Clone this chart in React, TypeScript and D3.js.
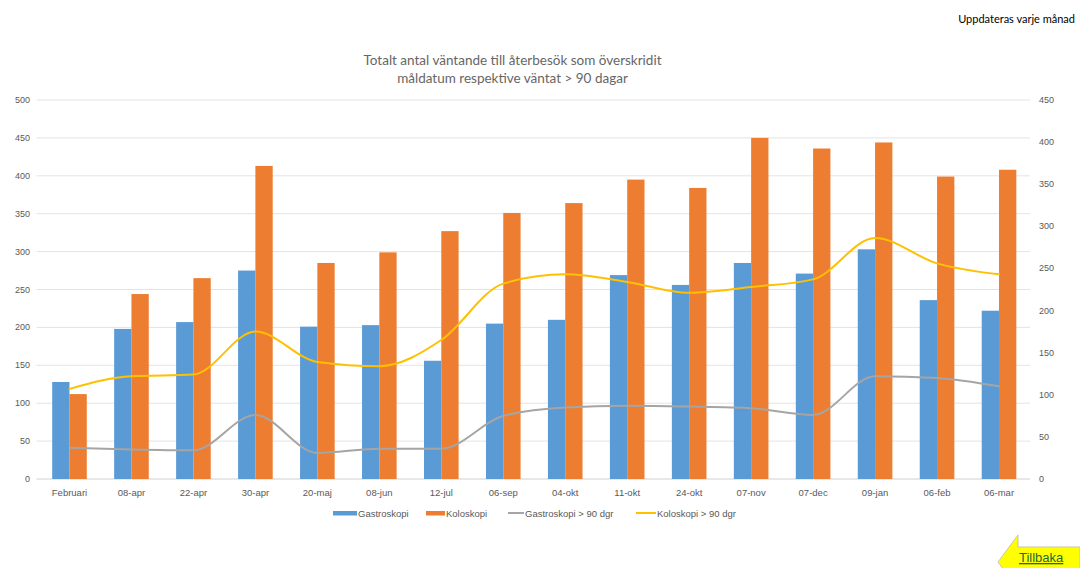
import React from "react";
import * as d3 from "d3";

const categories = ["Februari","08-apr","22-apr","30-apr","20-maj","08-jun","12-jul","06-sep","04-okt","11-okt","24-okt","07-nov","07-dec","09-jan","06-feb","06-mar"];
const gastroskopi = [128,198,207,275,201,203,156,205,210,269,256,285,271,303,236,222];
const koloskopi = [112,244,265,413,285,299,327,351,364,395,384,450,436,444,399,408];
const gastro90 = [37,35,34,76,31,36,36,75,85,87,86,84,76,122,120,110];
const kolo90 = [107,122,124,175,139,134,165,232,243,234,221,228,237,286,256,243];
const leftTicks = [0,50,100,150,200,250,300,350,400,450,500];
const rightTicks = [0,50,100,150,200,250,300,350,400,450];
const titleLines = ["Totalt antal väntande till återbesök som överskridit", "måldatum respektive väntat > 90 dagar"];

const W = 1080, H = 568;
const plot = { left: 38.5, right: 1030, top: 100, bottom: 479 };
const TXT = "#595959";
const C = { blue: "#5b9bd5", orange: "#ed7d31", gray: "#a5a5a5", yellow: "#ffc000" };
const FONT = "'Liberation Sans', Arial, sans-serif";

export default function App() {
  const x = d3.scaleBand<string>().domain(categories).range([plot.left, plot.right]).paddingInner(0).paddingOuter(0);
  const yL = d3.scaleLinear().domain([0, 500]).range([plot.bottom, plot.top]);
  const yR = d3.scaleLinear().domain([0, 450]).range([plot.bottom, plot.top]);
  const barW = 17.3;
  const cx = (c: string) => (x(c) as number) + x.bandwidth() / 2;
  const line = (vals: number[]) =>
    d3.line<number>().x((_, i) => cx(categories[i])).y((v) => yR(v)).curve(d3.curveMonotoneX)(vals) || "";

  const legend = [
    { label: "Gastroskopi", color: C.blue, kind: "bar", x: 333, w: 24 },
    { label: "Koloskopi", color: C.orange, kind: "bar", x: 426, w: 19 },
    { label: "Gastroskopi > 90 dgr", color: C.gray, kind: "line", x: 508, w: 16 },
    { label: "Koloskopi > 90 dgr", color: C.yellow, kind: "line", x: 636, w: 20 },
  ];

  return (
    <svg width={W} height={H} style={{ position: "absolute", left: 0, top: 0, background: "#fff" }} fontFamily={FONT}>
      <rect x={0} y={0} width={W} height={H} fill="#fff" />
      <text x={1075} y={23} textAnchor="end" fontSize={11} fill="#000" fontFamily="Lato, 'Open Sans', sans-serif">Uppdateras varje månad</text>
      {titleLines.map((t, i) => (
        <text key={i} x={512.5} y={65 + i * 18} textAnchor="middle" fontSize={13.5} fill="#666" fontFamily="Lato, 'Open Sans', sans-serif">{t}</text>
      ))}
      {leftTicks.map((t) => (
        <g key={"l" + t}>
          <line x1={36.5} x2={plot.right} y1={yL(t)} y2={yL(t)} stroke={t === 0 ? "#d0d0d0" : "#e4e4e4"} strokeWidth={1} />
          <text x={30} y={yL(t) + 3} textAnchor="end" fontSize={9} fill={TXT}>{t}</text>
        </g>
      ))}
      {rightTicks.map((t) => (
        <text key={"r" + t} x={1039} y={yR(t) + 3} textAnchor="start" fontSize={9} fill={TXT}>{t}</text>
      ))}
      {categories.map((c, i) => (
        <g key={c}>
          <rect x={cx(c) - barW} y={yL(gastroskopi[i])} width={barW} height={plot.bottom - yL(gastroskopi[i])} fill={C.blue} />
          <rect x={cx(c)} y={yL(koloskopi[i])} width={barW} height={plot.bottom - yL(koloskopi[i])} fill={C.orange} />
          <text x={cx(c)} y={495.5} textAnchor="middle" fontSize={9.5} fill={TXT}>{c}</text>
        </g>
      ))}
      <path d={line(gastro90)} fill="none" stroke={C.gray} strokeWidth={2} strokeLinejoin="round" strokeLinecap="round" />
      <path d={line(kolo90)} fill="none" stroke={C.yellow} strokeWidth={2} strokeLinejoin="round" strokeLinecap="round" />
      {legend.map((l) => (
        <g key={l.label}>
          {l.kind === "bar" ? (
            <rect x={l.x} y={511} width={l.w} height={4.5} fill={l.color} />
          ) : (
            <line x1={l.x} x2={l.x + l.w} y1={513} y2={513} stroke={l.color} strokeWidth={2} />
          )}
          <text x={l.x + l.w + 1} y={516.5} fontSize={9.5} fill={TXT}>{l.label}</text>
        </g>
      ))}
      <path d="M998,562 L1018,535 L1018,547 L1080,547 L1080,577 L1018,577 L1018,589 Z" fill="#ffff00" stroke="#c8c8a0" strokeWidth={1} />
      <text x={1019} y={562} fontSize={13} fill="#1e6a3a" textDecoration="underline" fontFamily={FONT}>Tillbaka</text>
    </svg>
  );
}
